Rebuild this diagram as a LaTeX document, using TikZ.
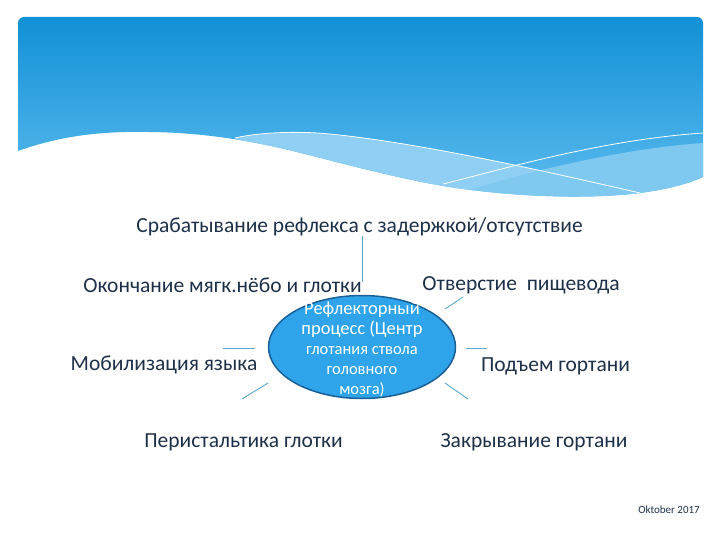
\documentclass[tikz,border=0pt]{standalone}
\usepackage{fontspec}
\setmainfont{Carlito}
\usetikzlibrary{%
  shapes.geometric,% ellipse
  positioning,%
  calc%
}
\definecolor{skytop}{HTML}{1290D6}
\definecolor{skybottom}{HTML}{5CBBEE}
\definecolor{skylight}{HTML}{8ECFF3}
\definecolor{hubfill}{HTML}{2FA4EA}
\definecolor{hubedge}{HTML}{1A5F95}
\definecolor{spoke}{HTML}{5BA8C4}
\definecolor{ink}{HTML}{1E3048}

\begin{document}
\begin{tikzpicture}[
  x=1pt, y=-1pt,
  font=\fontsize{21.5}{24}\selectfont,
  itemtext/.style={text=ink, inner sep=0pt},
  spokeline/.style={draw=spoke, line width=0.9pt},
  waveline/.style={white, line width=0.8pt},
  hub/.style={ellipse, fill=hubfill, draw=hubedge, line width=1.5pt,
    minimum width=187pt, minimum height=103pt, inner sep=0pt},
  hubtext/.style={text=white, align=center, inner sep=0pt,
    font=\fontsize{16.5}{20}\selectfont},
]
\useasboundingbox (0,0) rectangle (720,540);

% header with wave
\def\wavepath{(703,177) .. controls (690,183) and (670,189) .. (640,193)
  .. controls (600,198) and (540,198) .. (480,191)
  .. controls (440,187) and (400,178) .. (340,163)
  .. controls (290,150) and (230,133) .. (150,132)
  .. controls (100,131) and (60,136) .. (18,151)}
\def\headpath{(18,151) -- (18,23) arc[start angle=180, end angle=90, radius=6pt]
  -- (697,17) arc[start angle=90, end angle=0, radius=6pt] -- \wavepath -- cycle}

\shade[top color=skytop, bottom color=skybottom] \headpath;
\begin{scope}
  \clip \headpath;
  \fill[skylight] (235,138) .. controls (260,132) and (300,131) .. (330,134)
    .. controls (420,143) and (540,170) .. (640,193) -- (640,230) -- (235,230) -- cycle;
  \fill[skylight!70!skybottom] (470,190) .. controls (540,168) and (630,148) .. (703,143)
    -- (703,230) -- (470,230) -- cycle;
  \draw[waveline] (235,138) .. controls (260,132) and (300,131) .. (330,134)
    .. controls (420,143) and (540,170) .. (640,193);
  \draw[waveline] (443,184) .. controls (500,170) and (600,140) .. (703,133);
\end{scope}

% items
\node[itemtext] (reflex) at (359.5,227) {Срабатывание рефлекса с задержкой/отсутствие};
\node[itemtext] (palate) at (222.5,285) {Окончание мягк.нёбо и глотки};
\node[itemtext] (gullet) at (521,285) {Отверстие\ \ пищевода};
\node[itemtext] (tongue) at (164,365) {Мобилизация языка};
\node[itemtext] (larynxup) at (555.5,366) {Подъем гортани};
\node[itemtext] (peristalsis) at (243.5,442) {Перистальтика глотки};
\node[itemtext] (larynxclose) at (534,442) {Закрывание гортани};

\node[hub] (hub) at (362,347) {};
\node[hubtext] (hubtext) at (362,349) {%
  {\fontsize{18.5}{20}\selectfont Рефлекторный}\\
  {\fontsize{18.5}{20}\selectfont процесс (Центр}\\
  глотания ствола\\головного\\мозга)};

% spokes
\draw[spokeline, shorten >=13pt] (reflex.south -| hub) -- (hub.north);
\foreach \name/\ax/\ay/\bx/\by in {ne/445/309/463/297, w/255/348/223/348,
    e/466/348/487/348, sw/268/383/242/399, se/445/383/468/399} {
  \draw[spokeline] (\ax,\ay) coordinate (\name-in) -- (\bx,\by) coordinate (\name-out);
}

\node[itemtext, font=\fontsize{11}{12}\selectfont] (date) at (669,510) {Oktober 2017};
\end{tikzpicture}
\end{document}
